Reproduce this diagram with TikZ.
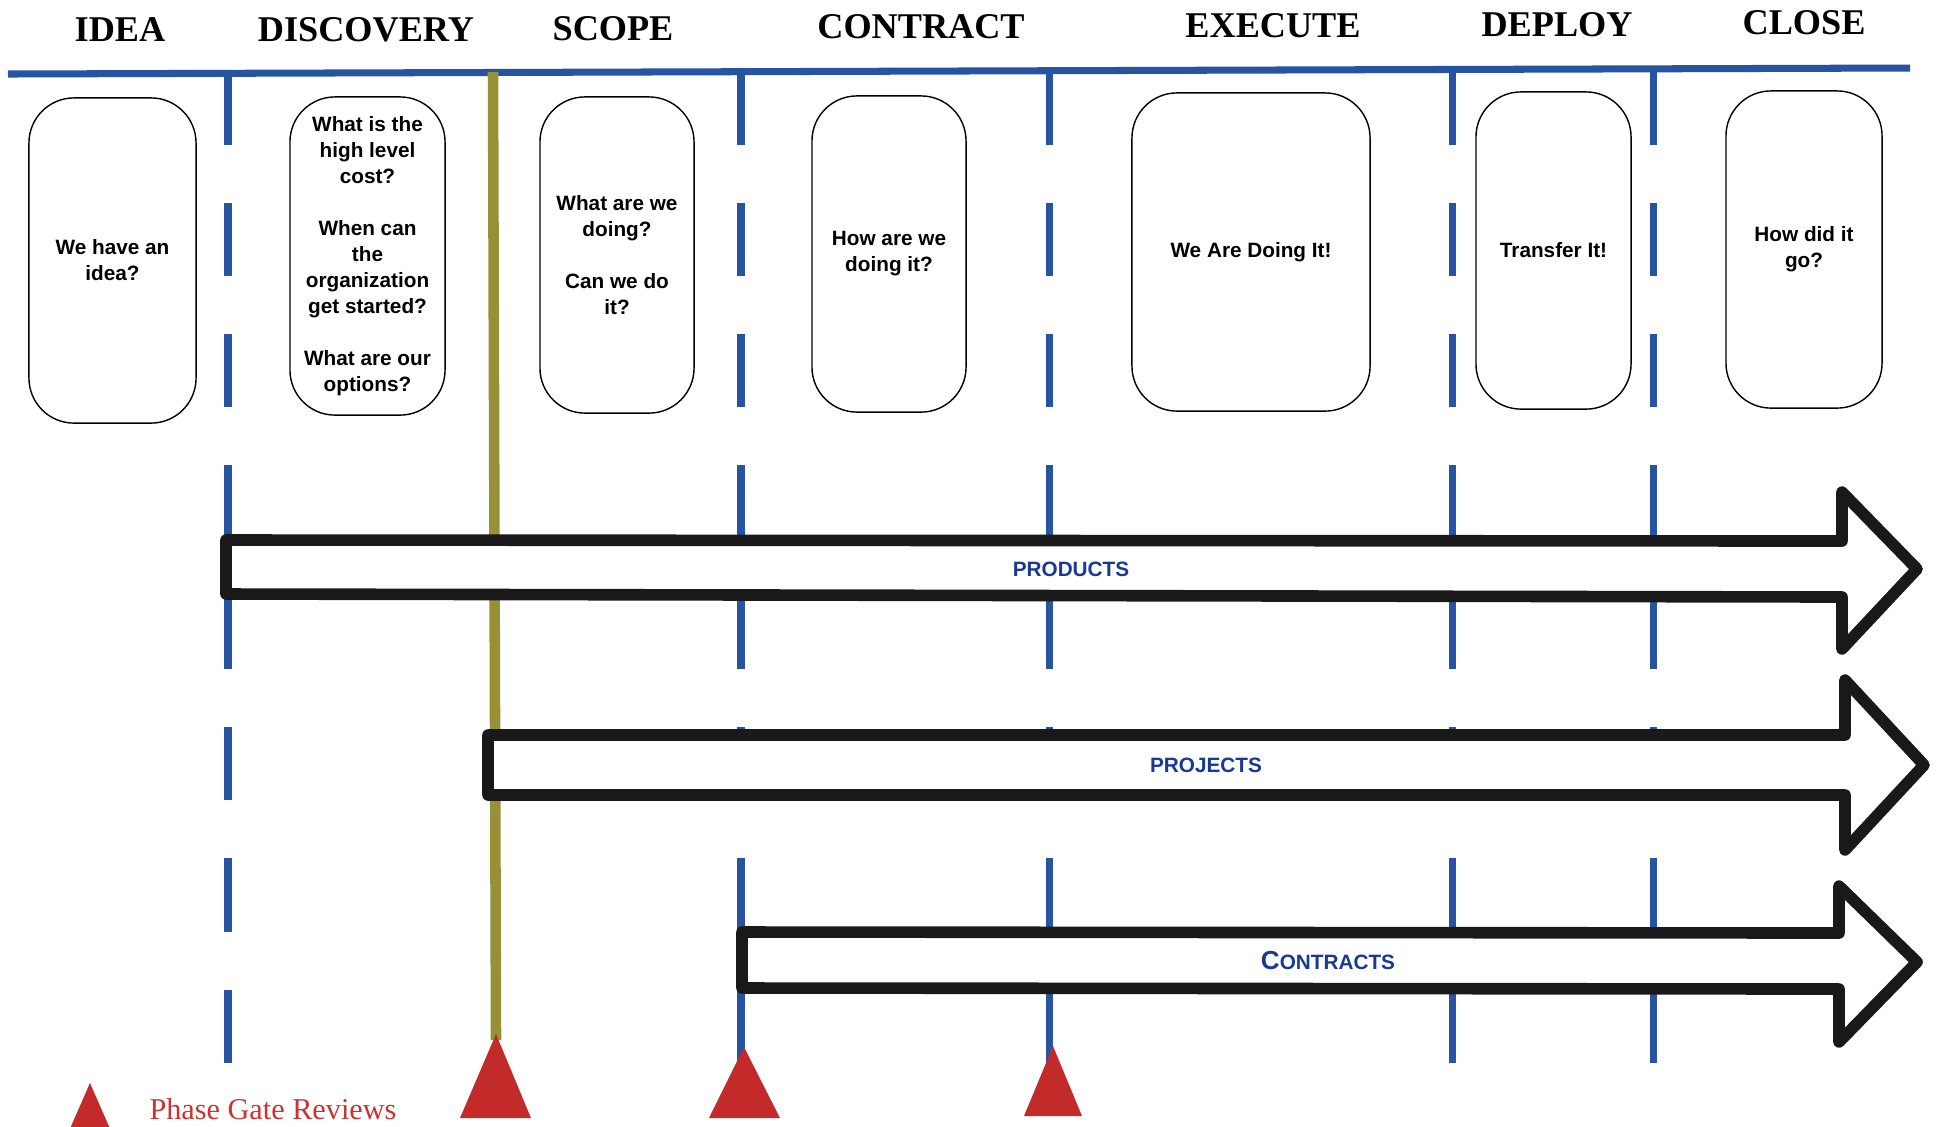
\documentclass[tikz,border=0pt]{standalone}
\usepackage{fontspec}
\newfontfamily\serifF{Liberation Serif}
\newfontfamily\sansF{Liberation Sans}
\definecolor{lineblue}{RGB}{38,84,160}
\definecolor{gold}{RGB}{150,145,55}
\definecolor{gatered}{RGB}{195,42,42}
\definecolor{legendred}{RGB}{205,50,50}
\definecolor{textblue}{RGB}{25,58,148}
\begin{document}
\begin{tikzpicture}[x=0.01cm,y=-0.01cm,
  phase/.style={font=\serifF\bfseries\fontsize{10.3pt}{12pt}\selectfont, inner sep=0pt},
  qbox/.style={draw, line width=0.4pt, rounded corners=0.45cm, align=center,
    font=\sansF\bfseries\fontsize{5.9pt}{7.4pt}\selectfont, inner sep=0pt},
  sep/.style={lineblue, line width=2pt, dash pattern=on 0.73cm off 0.58cm},
  topline/.style={lineblue, line width=2pt},
  goldline/.style={gold, line width=3pt},
  flow/.style={draw=black!90, fill=white, line width=3.3pt, line join=round},
  flowlabel/.style={textblue, inner sep=0pt, font=\sansF\bfseries\fontsize{5.9pt}{7pt}\selectfont},
  gate/.style={fill=gatered, draw=none}]
\useasboundingbox[fill=white] (0,0) rectangle (1937,1126);

% phase titles
\node[phase] (t1) at (120,30) {IDEA};
\node[phase] (t2) at (366,30) {DISCOVERY};
\node[phase] (t3) at (613,29) {SCOPE};
\node[phase] (t4) at (921,27) {CONTRACT};
\node[phase] (t5) at (1273,26) {EXECUTE};
\node[phase] (t6) at (1557,25) {DEPLOY};
\node[phase] (t7) at (1804,23) {CLOSE};

% top line
\coordinate (tl) at (8,74);
\coordinate (tr) at (1910,68);
\draw[topline] (tl) -- (tr);

% dashed separators
\foreach \n/\x in {1/228,2/741,3/1049,4/1452,5/1653}{
  \coordinate (s\n t) at (\x,72);
  \coordinate (s\n b) at (\x,1063);
  \draw[sep] (s\n t) -- (s\n b);
}

% gold phase gate line
\coordinate (gt) at (493,72);
\coordinate (gb) at (496,1040);
\draw[goldline] (gt) -- (gb);

% question boxes
\node[qbox, minimum width=1.67cm, minimum height=3.25cm] (b1) at (112.5,260.5) {We have an\\idea?};
\node[qbox, minimum width=1.55cm, minimum height=3.18cm] (b2) at (367.5,256) {What is the\\high level\\cost?\\[7.4pt]When can\\the\\organization\\get started?\\[7.4pt]What are our\\options?};
\node[qbox, minimum width=1.54cm, minimum height=3.16cm] (b3) at (617,255) {What are we\\doing?\\[7.4pt]Can we do\\it?};
\node[qbox, minimum width=1.54cm, minimum height=3.16cm] (b4) at (889,254) {How are we\\doing it?};
\node[qbox, minimum width=2.38cm, minimum height=3.18cm] (b5) at (1251,252) {We Are Doing It!};
\node[qbox, minimum width=1.55cm, minimum height=3.17cm] (b6) at (1553.5,250.5) {Transfer It!};
\node[qbox, minimum width=1.56cm, minimum height=3.17cm] (b7) at (1804,249.5) {How did it\\go?};

% products arrow
\draw[flow] (226,540) -- (1842,541) -- (1842,492) -- (1917,569) -- (1842,649) -- (1842,597) -- (226,594) -- cycle;
\node[flowlabel] (products) at (1071,569) {PRODUCTS};

% projects arrow
\draw[flow] (488,735) -- (1845,735) -- (1845,680) -- (1924,765) -- (1845,850) -- (1845,795) -- (488,795) -- cycle;
\node[flowlabel] (projects) at (1206,765) {PROJECTS};

% contracts arrow
\draw[flow] (742,932) -- (1839,933) -- (1839,886) -- (1917,962) -- (1839,1042) -- (1839,989) -- (742,988) -- cycle;
\node[flowlabel] (contracts) at (1328,961) {{\fontsize{7.4pt}{8pt}\selectfont C}ONTRACTS};

% phase gate triangles
\fill[gate] (496,1034) -- (531,1118) -- (460,1118) -- cycle;
\fill[gate] (744,1047) -- (780,1118) -- (709,1118) -- cycle;
\fill[gate] (1053,1046) -- (1082,1116) -- (1024,1116) -- cycle;

% legend
\fill[gate] (90,1083) -- (115,1140) -- (65,1140) -- cycle;
\node[legendred, inner sep=0pt, font=\serifF\fontsize{8.6pt}{10pt}\selectfont] (legend) at (273,1109) {Phase Gate Reviews};
\end{tikzpicture}
\end{document}
